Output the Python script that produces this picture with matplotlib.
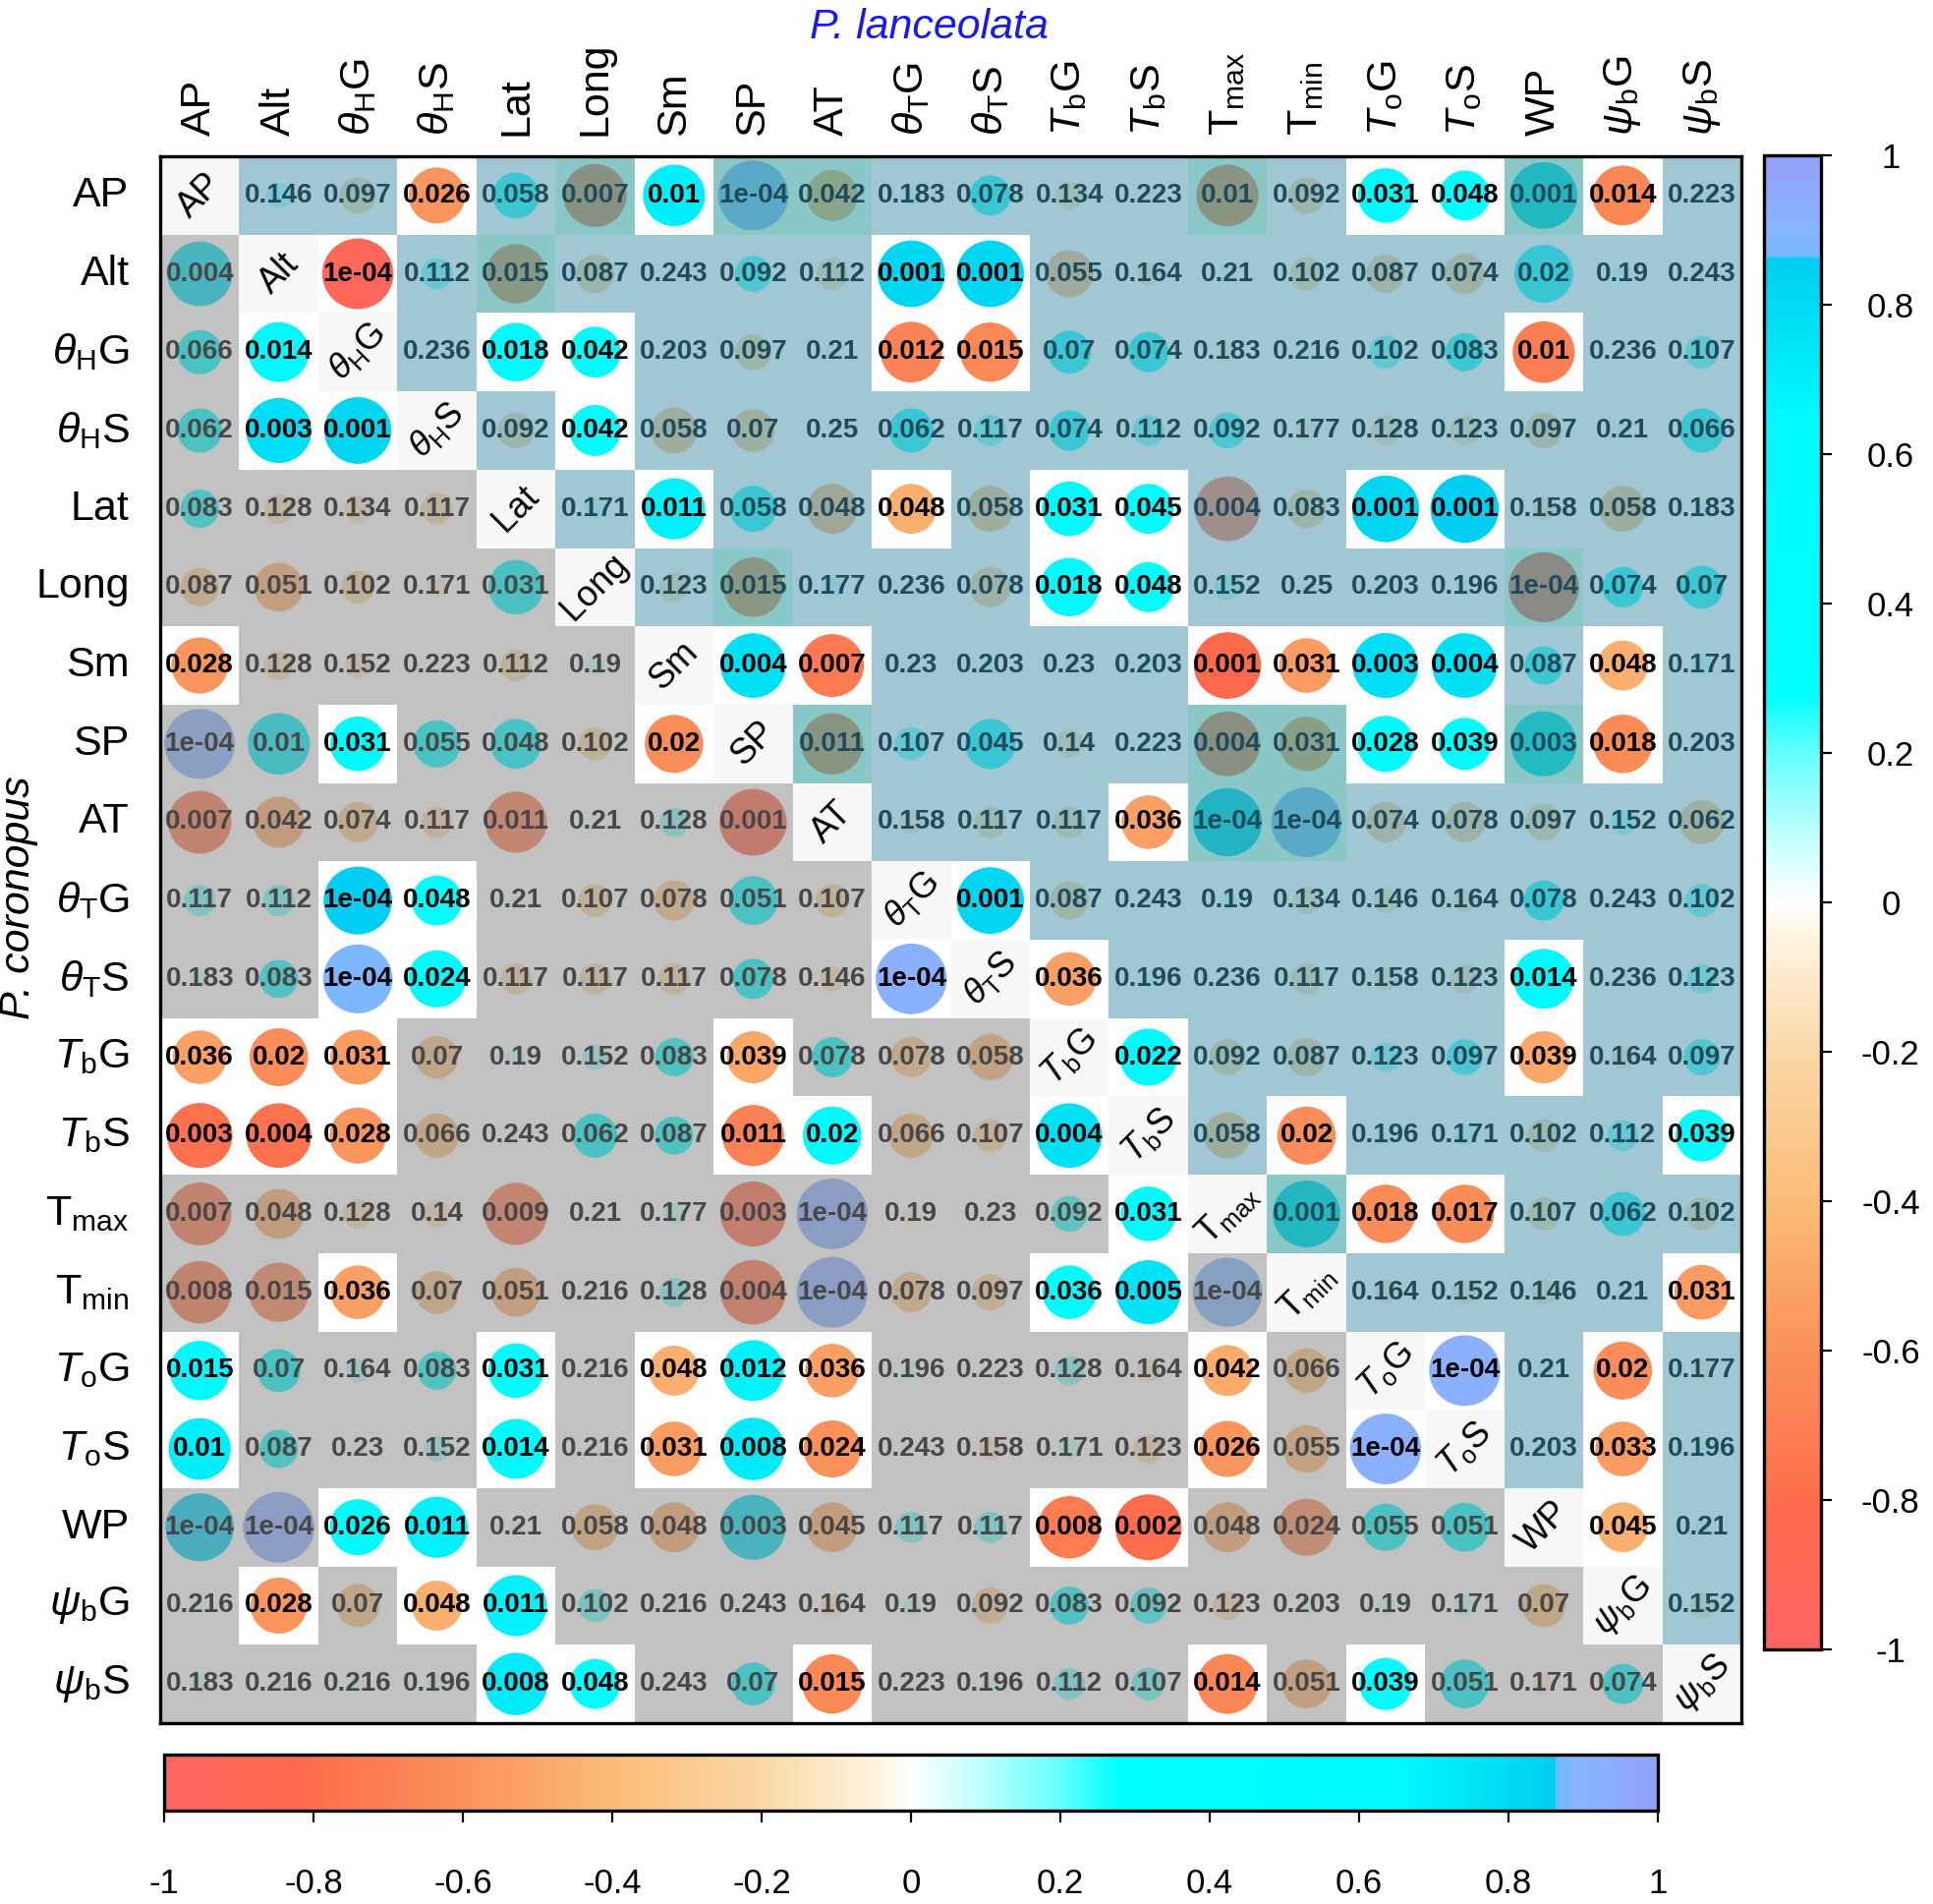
import numpy as np
import matplotlib
matplotlib.use('Agg')
import matplotlib.pyplot as plt
from matplotlib.colors import LinearSegmentedColormap, Normalize
from matplotlib.patches import Rectangle, Circle
from matplotlib.cm import ScalarMappable

plt.rcParams['font.family'] = ['Liberation Sans', 'DejaVu Sans']
plt.rcParams['mathtext.fontset'] = 'custom'
plt.rcParams['mathtext.rm'] = 'Liberation Sans'
plt.rcParams['mathtext.it'] = 'Liberation Sans:italic'
plt.rcParams['mathtext.bf'] = 'Liberation Sans:bold'

variables = ['AP', 'Alt', r'$\theta_\mathrm{H}$G', r'$\theta_\mathrm{H}$S', 'Lat', 'Long', 'Sm', 'SP', 'AT',
             r'$\theta_\mathrm{T}$G', r'$\theta_\mathrm{T}$S', r'$T_\mathrm{b}$G', r'$T_\mathrm{b}$S',
             r'T$_\mathrm{max}$', r'T$_\mathrm{min}$', r'$T_\mathrm{o}$G', r'$T_\mathrm{o}$S', 'WP',
             r'$\psi_\mathrm{b}$G', r'$\psi_\mathrm{b}$S']

# p-values as printed; upper triangle = P. lanceolata, lower = P. coronopus
p_rows = [
    "- 0.146 0.097 0.026 0.058 0.007 0.01 1e-04 0.042 0.183 0.078 0.134 0.223 0.01 0.092 0.031 0.048 0.001 0.014 0.223",
    "0.004 - 1e-04 0.112 0.015 0.087 0.243 0.092 0.112 0.001 0.001 0.055 0.164 0.21 0.102 0.087 0.074 0.02 0.19 0.243",
    "0.066 0.014 - 0.236 0.018 0.042 0.203 0.097 0.21 0.012 0.015 0.07 0.074 0.183 0.216 0.102 0.083 0.01 0.236 0.107",
    "0.062 0.003 0.001 - 0.092 0.042 0.058 0.07 0.25 0.062 0.117 0.074 0.112 0.092 0.177 0.128 0.123 0.097 0.21 0.066",
    "0.083 0.128 0.134 0.117 - 0.171 0.011 0.058 0.048 0.048 0.058 0.031 0.045 0.004 0.083 0.001 0.001 0.158 0.058 0.183",
    "0.087 0.051 0.102 0.171 0.031 - 0.123 0.015 0.177 0.236 0.078 0.018 0.048 0.152 0.25 0.203 0.196 1e-04 0.074 0.07",
    "0.028 0.128 0.152 0.223 0.112 0.19 - 0.004 0.007 0.23 0.203 0.23 0.203 0.001 0.031 0.003 0.004 0.087 0.048 0.171",
    "1e-04 0.01 0.031 0.055 0.048 0.102 0.02 - 0.011 0.107 0.045 0.14 0.223 0.004 0.031 0.028 0.039 0.003 0.018 0.203",
    "0.007 0.042 0.074 0.117 0.011 0.21 0.128 0.001 - 0.158 0.117 0.117 0.036 1e-04 1e-04 0.074 0.078 0.097 0.152 0.062",
    "0.117 0.112 1e-04 0.048 0.21 0.107 0.078 0.051 0.107 - 0.001 0.087 0.243 0.19 0.134 0.146 0.164 0.078 0.243 0.102",
    "0.183 0.083 1e-04 0.024 0.117 0.117 0.117 0.078 0.146 1e-04 - 0.036 0.196 0.236 0.117 0.158 0.123 0.014 0.236 0.123",
    "0.036 0.02 0.031 0.07 0.19 0.152 0.083 0.039 0.078 0.078 0.058 - 0.022 0.092 0.087 0.123 0.097 0.039 0.164 0.097",
    "0.003 0.004 0.028 0.066 0.243 0.062 0.087 0.011 0.02 0.066 0.107 0.004 - 0.058 0.02 0.196 0.171 0.102 0.112 0.039",
    "0.007 0.048 0.128 0.14 0.009 0.21 0.177 0.003 1e-04 0.19 0.23 0.092 0.031 - 0.001 0.018 0.017 0.107 0.062 0.102",
    "0.008 0.015 0.036 0.07 0.051 0.216 0.128 0.004 1e-04 0.078 0.097 0.036 0.005 1e-04 - 0.164 0.152 0.146 0.21 0.031",
    "0.015 0.07 0.164 0.083 0.031 0.216 0.048 0.012 0.036 0.196 0.223 0.128 0.164 0.042 0.066 - 1e-04 0.21 0.02 0.177",
    "0.01 0.087 0.23 0.152 0.014 0.216 0.031 0.008 0.024 0.243 0.158 0.171 0.123 0.026 0.055 1e-04 - 0.203 0.033 0.196",
    "1e-04 1e-04 0.026 0.011 0.21 0.058 0.048 0.003 0.045 0.117 0.117 0.008 0.002 0.048 0.024 0.055 0.051 - 0.045 0.21",
    "0.216 0.028 0.07 0.048 0.011 0.102 0.216 0.243 0.164 0.19 0.092 0.083 0.092 0.123 0.203 0.19 0.171 0.07 - 0.152",
    "0.183 0.216 0.216 0.196 0.008 0.048 0.243 0.07 0.015 0.223 0.196 0.112 0.107 0.014 0.051 0.039 0.051 0.171 0.074 -",
]

r_rows = [
    [1, .12, -.24, -.58, .39, -.73, .70, .90, -.48, .06, .30, -.14, .03, -.70, -.24, .55, .46, .82, -.66, .03],
    [.77, 1, -.92, .18, -.65, -.27, .02, .24, -.18, .82, .82, -.41, -.10, .04, -.20, -.27, -.30, .62, .06, .02],
    [.36, .66, 1, .02, .63, .48, .05, -.24, .04, -.68, -.65, .34, .30, -.06, .04, .20, .27, -.70, .02, .20],
    [.36, .78, .82, 1, -.24, .48, -.39, -.34, .02, .36, .18, .30, .18, .24, -.08, -.16, -.16, -.24, .04, .36],
    [.27, -.16, -.14, -.18, 1, .08, .69, .39, -.46, -.46, -.39, .55, .46, -.77, -.27, .82, .85, -.10, -.39, .06],
    [-.27, -.44, -.20, -.08, .55, 1, -.16, -.65, .08, .02, -.30, .63, .46, .12, .02, .05, .05, -.90, .30, .34],
    [-.58, -.16, -.12, -.03, -.18, .06, 1, .77, -.73, .03, .05, .03, .05, -.82, -.55, .78, .77, .27, -.46, .08],
    [.90, .70, .55, .41, .46, -.20, -.62, 1, -.69, .20, .46, -.14, .03, -.77, -.55, .58, .50, .78, -.63, .05],
    [-.73, -.48, -.30, -.18, -.69, .04, .16, -.82, 1, -.10, -.18, -.18, -.53, .86, .90, -.30, -.30, -.24, .12, -.36],
    [.18, .18, .85, .46, .04, -.20, -.30, .44, -.20, 1, .82, -.27, .02, .06, -.14, -.12, -.10, .30, .02, .20],
    [.06, .27, .875, .60, -.18, -.18, -.18, .30, -.12, .92, 1, -.53, .05, .02, -.18, -.10, -.16, .66, .02, .16],
    [-.53, -.62, -.55, -.34, .06, .12, .27, -.50, .30, -.30, -.39, 1, .60, -.24, -.27, .16, .24, -.50, -.10, .24],
    [-.78, -.77, -.58, -.36, .02, .36, .27, -.69, .62, -.36, -.20, .77, 1, -.39, -.62, .05, .08, -.20, .18, .50],
    [-.73, -.46, -.16, -.14, -.71, .04, .08, -.78, .92, -.06, .03, .24, .55, 1, .82, -.63, -.63, -.20, .36, -.20],
    [-.72, -.65, -.53, -.34, -.44, .04, .16, -.77, .92, -.30, -.24, .53, .76, .88, 1, -.10, -.12, -.12, .04, -.55],
    [.65, .34, .10, .27, .55, .04, -.46, .68, -.53, .05, .03, .16, -.10, -.48, -.36, 1, .92, .04, -.62, -.08],
    [.70, .27, .03, .12, .66, .04, -.55, .72, -.60, .02, -.10, .08, -.16, -.58, -.41, .92, 1, .05, -.55, .05],
    [.85, .92, .58, .69, .04, -.39, -.46, .78, -.46, .18, .18, -.72, -.80, -.46, -.60, .41, .44, 1, -.46, .04],
    [.04, -.58, -.34, -.46, .69, .20, .04, .02, -.10, .06, -.24, .27, .24, -.16, .05, .06, .08, -.34, 1, -.12],
    [.06, -.04, .04, .05, .72, .46, .02, .34, -.65, .03, .05, .18, .20, -.66, -.44, .50, .44, -.08, .30, 1],
]

# '#' = highlighted (white) cell, '+' = second shade, '.' = shaded, 'D' = diagonal
mark_rows = [
    "D..#.+#++....+.##+#.",
    ".D#.+....##.........",
    ".#D.##...##......#..",
    ".##D.#..............",
    "....D.#..#.##..##...",
    ".....D.+...##....+..",
    "#.....D##....####.#.",
    "..#...#D+....++##+#.",
    "........D...#++.....",
    "..##.....D#.........",
    "..##.....#D#.....#..",
    "###....#...D#....#..",
    "###....##..#D.#....#",
    "............#D+##...",
    "..#........##.D....#",
    "#...#.###....#.D#.#.",
    "#...#.###....#.#D.#.",
    "..##.......##....D#.",
    ".#.##.............D.",
    "....##..#....#.#...D",
]

cbar_ticks = [-1, -0.8, -0.6, -0.4, -0.2, 0, 0.2, 0.4, 0.6, 0.8, 1]
cbar_labels = ['-1', '-0.8', '-0.6', '-0.4', '-0.2', '0', '0.2', '0.4', '0.6', '0.8', '1']

nodes = [(-1.0, '#ff6464'), (-0.82, '#ff6a4c'), (-0.6, '#fa915a'), (-0.4, '#fcbc78'),
         (-0.2, '#fad8a6'), (-0.04, '#fff5e2'), (0.0, '#ffffff'), (0.08, '#c8ffff'),
         (0.2, '#64ffff'), (0.28, '#00ffff'), (0.65, '#00faff'), (0.84, '#00d2f0'),
         (0.862, '#00cdf5'), (0.866, '#78b9ff'), (0.9, '#87b4ff'), (1.0, '#96a0fa')]
cmap = LinearSegmentedColormap.from_list('rc', [((v + 1) / 2, c) for v, c in nodes], N=1024)
norm = Normalize(-1, 1)

n = len(variables)
P = [row.split() for row in p_rows]
R = np.array(r_rows, dtype=float)

fig = plt.figure(figsize=(19.67, 19.37), dpi=100)
ax = fig.add_axes([163 / 1967, 1 - 1753 / 1937, 1609 / 1967, 1594 / 1937])
ax.set_xlim(0, n)
ax.set_ylim(n, 0)
ax.set_xticks([])
ax.set_yticks([])
for s in ax.spines.values():
    s.set_linewidth(2.4)
    s.set_zorder(10)

upper_shade = (97 / 255, 163 / 255, 183 / 255)
second_shade = (60 / 255, 163 / 255, 163 / 255)
lower_shade = (141 / 255, 141 / 255, 141 / 255)

for i in range(n):
    for j in range(n):
        m = mark_rows[i][j]
        if m == 'D':
            ax.add_patch(Rectangle((j, i), 1, 1, facecolor='#f7f7f7', edgecolor='none', zorder=1))
            ax.text(j + 0.5, i + 0.5, variables[i], ha='center', va='center', rotation=45,
                    rotation_mode='anchor', fontsize=26, zorder=5)
            continue
        ax.add_patch(Rectangle((j, i), 1, 1, facecolor='white', edgecolor='none', zorder=1))
        r = R[i, j]
        ax.add_patch(Circle((j + 0.5, i + 0.5), 0.47 * np.sqrt(abs(r)),
                            facecolor=cmap(norm(r)), edgecolor='none', zorder=2))
        if m == '#':
            tcol = 'black'
        else:
            if j > i:
                shade, alpha = (second_shade if m == '+' else upper_shade), 0.6
                tcol = '#1f4b5a'
            else:
                shade, alpha = lower_shade, 0.53
                tcol = '#474747'
            ax.add_patch(Rectangle((j, i), 1, 1, facecolor=shade, alpha=alpha,
                                   edgecolor='none', zorder=3))
        ax.text(j + 0.5, i + 0.5, P[i][j], ha='center', va='center', fontsize=20,
                fontweight='bold', color=tcol, zorder=5)

for k in range(n):
    ax.text(k + 0.5, -0.26, variables[k], rotation=90, ha='center', va='bottom',
            fontsize=31, clip_on=False)
    ax.text(-0.39, k + 0.5, variables[k], ha='right', va='center', fontsize=31, clip_on=False)

fig.text(945 / 1967, 1 - 28 / 1937, 'P. lanceolata', color='#1a1aee', fontsize=31,
         style='italic', ha='center', va='center')
fig.text(19 / 1967, 1 - 913 / 1937, 'P. coronopus', rotation=90, fontsize=31,
         style='italic', ha='center', va='center')

sm = ScalarMappable(norm=norm, cmap=cmap)

cax1 = fig.add_axes([1795 / 1967, 1 - 1678 / 1937, 58 / 1967, 1520 / 1937])
cb1 = fig.colorbar(sm, cax=cax1, orientation='vertical', ticks=cbar_ticks)
cb1.ax.set_yticklabels(cbar_labels)
cb1.outline.set_linewidth(2.4)
cax1.tick_params(axis='y', direction='out', length=8, width=1.6, labelsize=25, pad=43,
                 right=True, left=False)
for t in cax1.get_yticklabels():
    t.set_horizontalalignment('center')

cax2 = fig.add_axes([167 / 1967, 1 - 1842 / 1937, 1520 / 1967, 57 / 1937])
cb2 = fig.colorbar(sm, cax=cax2, orientation='horizontal', ticks=cbar_ticks)
cb2.ax.set_xticklabels(cbar_labels)
cb2.outline.set_linewidth(2.4)
cax2.tick_params(axis='x', direction='out', length=8.5, width=1.6, labelsize=25, pad=33)

fig.savefig('out.png', dpi=100)
